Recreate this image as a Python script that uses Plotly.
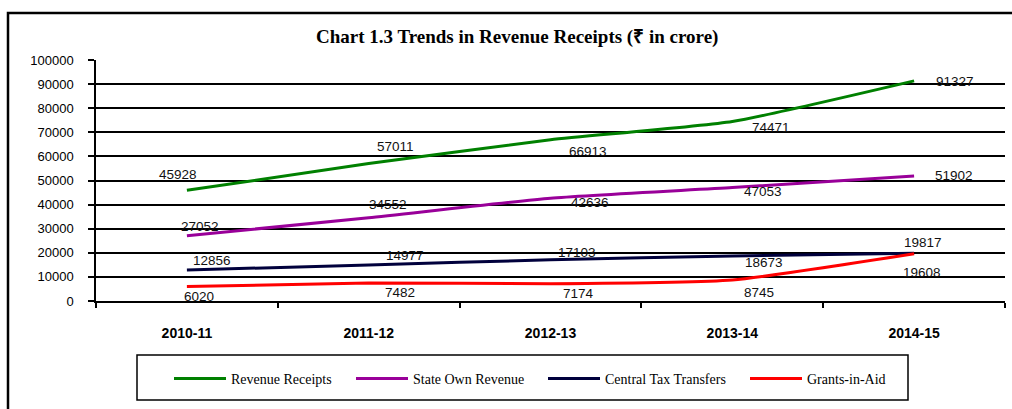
import plotly.graph_objects as go

categories = ["2010-11", "2011-12", "2012-13", "2013-14", "2014-15"]
revenue_receipts = [45928, 57011, 66913, 74471, 91327]
state_own_revenue = [27052, 34552, 42636, 47053, 51902]
central_tax_transfers = [12856, 14977, 17103, 18673, 19817]
grants_in_aid = [6020, 7482, 7174, 8745, 19608]

series_names = ["Revenue Receipts", "State Own Revenue", "Central Tax Transfers", "Grants-in-Aid"]
series_values = [revenue_receipts, state_own_revenue, central_tax_transfers, grants_in_aid]
series_colors = ["#008000", "#990099", "#00003C", "#FF0000"]
legend_widths = [115, 125, 135, 90]

# label offsets in pixels (dx right, dy down)
label_dx = [
    [-9, 27, 37, 39, 41],
    [13, 19, 39, 31, 40],
    [25, 36, 26, 32, 9],
    [12, 31, 28, 27, 8],
]
label_dy = [
    [-16, -17, 12, 6, 1],
    [-9, -13, 4, 4, 0],
    [-10, -9, -7, 6, -11],
    [10, 10, 10, 13, 19],
]

fig = go.Figure()
annotations = []
for name, vals, col, dxs, dys, lw in zip(series_names, series_values, series_colors,
                                         label_dx, label_dy, legend_widths):
    fig.add_trace(go.Scatter(
        x=categories, y=vals, name=name, mode="lines",
        line=dict(color=col, width=3, shape="spline", smoothing=0.5),
        legendwidth=lw,
    ))
    for c, v, dx, dy in zip(categories, vals, dxs, dys):
        annotations.append(dict(
            x=c, y=v, xref="x", yref="y", text=str(v), showarrow=False,
            xshift=dx, yshift=-dy,
            font=dict(family="Liberation Sans, Arial", size=13.5, color="#111111"),
        ))

annotations.append(dict(
    text="<b>Chart 1.3 Trends in Revenue Receipts (₹ in crore)</b>",
    xref="paper", yref="paper", x=(517 - 96) / 909, y=(301 - 37) / 241,
    showarrow=False, xanchor="center", yanchor="middle",
    font=dict(family="Liberation Serif, Times New Roman", size=19, color="#000000"),
))

shapes = [
    # outer frame
    dict(type="rect", xref="paper", yref="paper",
         x0=(8 - 96) / 909, x1=(1020 - 96) / 909,
         y0=(301 - 420) / 241, y1=(301 - 13) / 241,
         line=dict(color="#000000", width=2.5), layer="below"),
    # legend box
    dict(type="rect", xref="paper", yref="paper",
         x0=(137 - 96) / 909, x1=(908 - 96) / 909,
         y0=(301 - 400) / 241, y1=(301 - 355) / 241,
         line=dict(color="#000000", width=1.5)),
]

fig.update_layout(
    width=1012, height=409,
    margin=dict(l=96, r=7, t=60, b=108),
    paper_bgcolor="#FFFFFF", plot_bgcolor="#FFFFFF",
    showlegend=True,
    legend=dict(
        orientation="h", xref="container", yref="container",
        x=169 / 1012, y=1 - 379 / 409, xanchor="left", yanchor="middle",
        itemwidth=52,
        font=dict(family="Liberation Serif, Times New Roman", size=14, color="#000000"),
        bgcolor="rgba(0,0,0,0)", borderwidth=0,
    ),
    annotations=annotations,
    shapes=shapes,
    xaxis=dict(
        type="category", range=[-0.5, 4.5],
        showline=True, linecolor="#000000", linewidth=1.5,
        ticks="outside", tickson="boundaries", ticklen=5, tickcolor="#000000", tickwidth=1.5,
        showgrid=False, ticklabelstandoff=18,
        tickfont=dict(family="Liberation Sans, Arial", size=14,
                      color="#000000", weight="bold"),
    ),
    yaxis=dict(
        range=[0, 100000], dtick=10000, tickformat="d",
        showline=True, linecolor="#000000", linewidth=1.5,
        ticks="outside", ticklen=6, tickcolor="#000000", tickwidth=1.5,
        showgrid=True, gridcolor="#000000", gridwidth=1.5,
        zeroline=False, ticklabelstandoff=12,
        tickfont=dict(family="Liberation Sans, Arial", size=13, color="#000000"),
    ),
)

fig.write_html("out.html", config={"displayModeBar": False},
               post_script="document.body.style.margin='0px';")
